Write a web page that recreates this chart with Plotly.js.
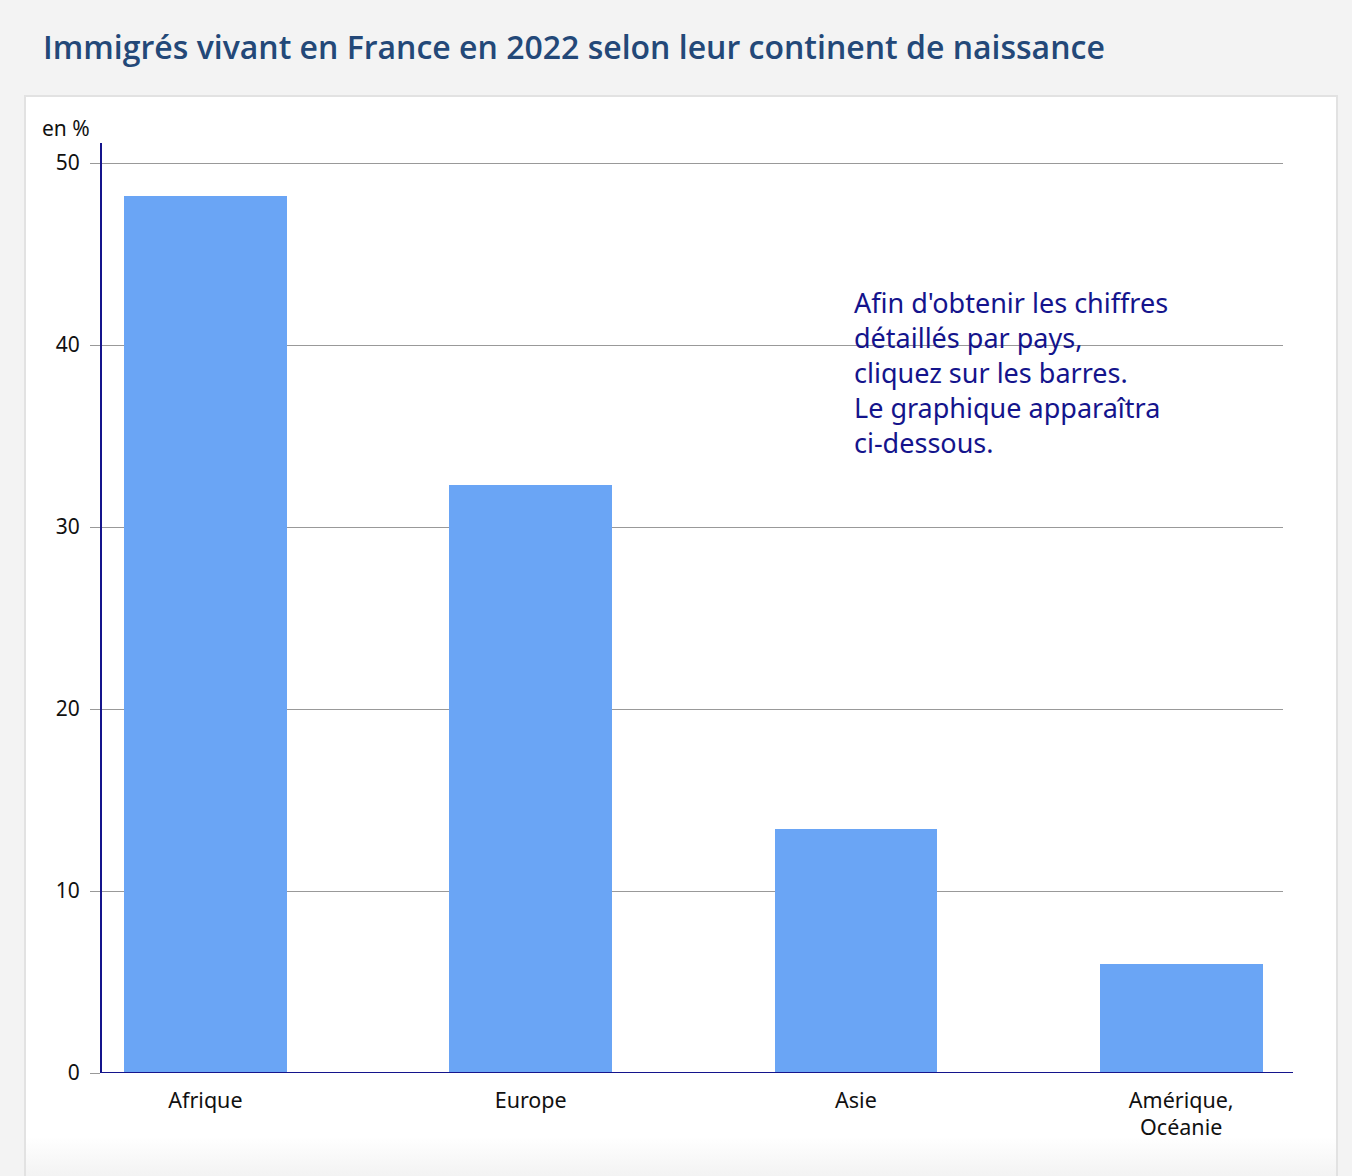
<!DOCTYPE html>
<html>
<head>
<meta charset="utf-8">
<script src="https://cdn.plot.ly/plotly-3.0.1.min.js"></script>
<style>
  html, body { margin: 0; padding: 0; background: #f3f3f3; width: 1352px; height: 1176px; overflow: hidden; }
  #panel { position: absolute; left: 24px; top: 95px; width: 1314px; height: 1100px;
           background: linear-gradient(to bottom, #ffffff 0px, #ffffff 1040px, #f1f1f1 1085px);
           border: 2px solid #e2e2e2; box-sizing: border-box; }
  #chart { position: absolute; left: 0; top: 0; width: 1352px; height: 1176px; }
</style>
</head>
<body>
<div id="panel"></div>
<div id="chart"></div>
<script>
const categories = ["Afrique", "Europe", "Asie", "Amérique,<br>Océanie"];
const values = [48.2, 32.3, 13.4, 6.0];
const yTicks = [0, 10, 20, 30, 40, 50];

const navy = "#14148c";
const font = "Noto Sans, Open Sans, sans-serif";

const trace = {
  type: "bar",
  x: [0, 1, 2, 3],
  y: values,
  width: 0.5,
  marker: { color: "#6aa5f5", line: { width: 0 } },
  hoverinfo: "y"
};

const layout = {
  width: 1352, height: 1176,
  margin: { l: 102, r: 69, t: 143, b: 103 },
  paper_bgcolor: "rgba(0,0,0,0)",
  plot_bgcolor: "rgba(0,0,0,0)",
  showlegend: false,
  bargap: 0,
  font: { family: font, color: "#111", size: 20 },
  title: {
    text: "Immigrés vivant en France en 2022 selon leur continent de naissance",
    x: 43 / 1352, xref: "container", xanchor: "left",
    y: 1 - 48 / 1176, yref: "container", yanchor: "middle",
    font: { family: "Open Sans, sans-serif", size: 32, weight: 600, color: "#234878" }
  },
  xaxis: {
    range: [-0.318, 3.313],
    tickmode: "array",
    tickvals: [0, 1, 2, 3],
    ticktext: categories,
    ticks: "",
    ticklabelstandoff: 12,
    showgrid: false,
    zeroline: false,
    showline: false,
    tickfont: { family: font, size: 21.5, color: "#111" },
    fixedrange: true
  },
  yaxis: {
    range: [0, 51.1],
    tickmode: "array",
    tickvals: yTicks,
    ticks: "outside",
    ticklen: 10,
    tickcolor: "#999",
    tickwidth: 1,
    ticklabelstandoff: 6,
    showgrid: true,
    gridcolor: "#999",
    gridwidth: 1,
    zeroline: false,
    showline: true,
    linecolor: navy,
    linewidth: 2,
    tickfont: { family: font, size: 21, color: "#111" },
    fixedrange: true
  },
  shapes: [
    { type: "line", xref: "paper", yref: "y", x0: 0, x1: 1 + 10 / 1181, y0: 0, y1: 0,
      line: { color: navy, width: 2 } }
  ],
  annotations: [
    { text: "en %", xref: "paper", yref: "paper", x: -62 / 1181, y: 1 + 15 / 930,
      xanchor: "left", yanchor: "middle", showarrow: false,
      font: { family: font, size: 21, color: "#111" } },
    { text: "Afin d'obtenir les chiffres<br>détaillés par pays,<br>cliquez sur les barres.<br>Le graphique apparaîtra<br>ci-dessous.",
      xref: "paper", yref: "paper", x: (852 - 102) / 1181, y: (1073 - 282) / 930,
      xanchor: "left", yanchor: "top", align: "left", showarrow: false,
      font: { family: font, size: 27, color: navy } }
  ]
};

Plotly.newPlot("chart", [trace], layout, { displayModeBar: false, responsive: false });
</script>
</body>
</html>
